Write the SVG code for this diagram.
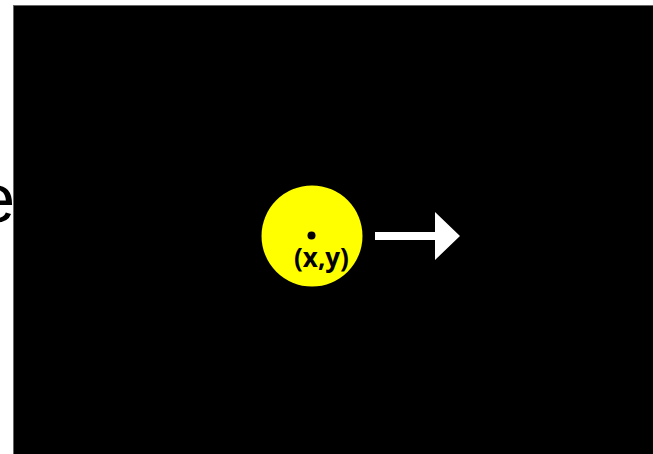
<svg xmlns="http://www.w3.org/2000/svg" width="653" height="454" viewBox="0 0 653 454">
<style>
.lbl{font-family:"Open Sans","Liberation Sans",Arial,sans-serif;font-weight:bold;font-size:26px;fill:#000}
.big{font-family:"Liberation Sans",Arial,sans-serif;font-size:68px;fill:#000}
</style>
<rect width="653" height="454" fill="#fff"/>
<text class="big" x="15" y="222" text-anchor="end">e</text>
<rect id="panel" x="13.5" y="5.5" width="645" height="455" fill="#000" stroke="#666" stroke-width="1"/>
<g id="ball">
<circle cx="312" cy="236" r="50.5" fill="#ffff00"/>
<circle cx="311.5" cy="235.5" r="4" fill="#000"/>
<text class="lbl" x="321.5" y="267" text-anchor="middle">(x,y)</text>
</g>
<g id="connectors">
<polygon points="375,232 435,232 435,212 460,236 435,260 435,240 375,240" fill="#fff"/>
</g>
</svg>
